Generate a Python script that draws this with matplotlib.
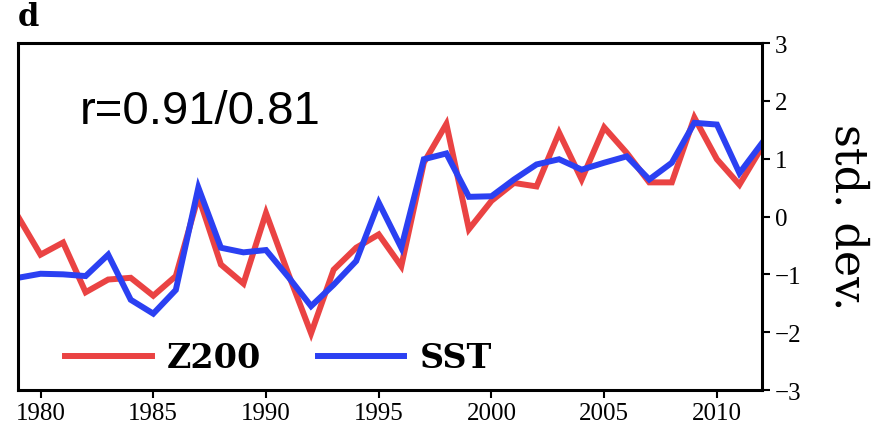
import numpy as np
import matplotlib
matplotlib.use("Agg")
import matplotlib.pyplot as plt

# years and standardized series
years = list(range(1979, 2013))
z200 = [0.0, -0.66, -0.45, -1.31, -1.09, -1.06, -1.37, -1.03, 0.35, -0.83,
        -1.16, 0.06, -1.0, -2.02, -0.92, -0.54, -0.31, -0.86, 0.93, 1.6,
        -0.22, 0.27, 0.58, 0.52, 1.45, 0.64, 1.54, 1.1, 0.59, 0.59,
        1.71, 0.99, 0.55, 1.2]
sst = [-1.06, -0.99, -1.0, -1.03, -0.66, -1.44, -1.68, -1.27, 0.5, -0.54,
       -0.62, -0.58, -1.05, -1.55, -1.18, -0.77, 0.24, -0.54, 0.99, 1.09,
       0.34, 0.35, 0.64, 0.9, 0.99, 0.81, 0.93, 1.04, 0.64, 0.93,
       1.62, 1.59, 0.75, 1.27]
xticks = [1980, 1985, 1990, 1995, 2000, 2005, 2010]
yticks = [-3, -2, -1, 0, 1, 2, 3]

red = "#ea4343"
blue = "#2b40f2"
serif = "DejaVu Serif"

fig = plt.figure(figsize=(8.81, 4.27), dpi=100)
ax = fig.add_axes([18 / 881, 1 - 391 / 427, 744 / 881, 347 / 427])

ax.plot(years, z200, color=red, lw=4.3, label="Z200", solid_joinstyle="miter")
ax.plot(years, sst, color=blue, lw=4.3, label="SST", solid_joinstyle="miter")

ax.set_xlim(1979, 2012)
ax.set_ylim(-3, 3)
ax.set_xticks(xticks)
ax.set_yticks(yticks)
ax.yaxis.tick_right()
ax.tick_params(axis="both", direction="out", length=6, width=1.5, pad=3)
ax.tick_params(axis="y", left=False, right=True)
ax.set_yticklabels([str(v).replace("-", "\u2212") for v in yticks])
for lab in ax.get_xticklabels() + ax.get_yticklabels():
    lab.set_family("Liberation Serif")
    lab.set_fontsize(18)
for sp in ax.spines.values():
    sp.set_linewidth(2.2)

# correlation text
ax.text((80 - 18) / 744, (391 - 112) / 347, "r=0.91/0.81",
        transform=ax.transAxes, fontsize=34, family="Liberation Sans",
        va="center", ha="left")

# right label
ax.text((848 - 18) / 744, 0.5, "std. dev.", transform=ax.transAxes,
        rotation=270, fontsize=32, family=serif, va="center", ha="center")

# panel letter
fig.text(18 / 881, 1 - 33 / 427, "d", fontsize=22, family=serif,
         fontweight="bold", va="bottom", ha="left")

leg = ax.legend(ncol=2, frameon=False, loc="center left",
                bbox_to_anchor=((65 - 18) / 744, (391 - 359) / 347),
                borderpad=0, borderaxespad=0, handlelength=2.6,
                handletextpad=0.45, columnspacing=1.7,
                prop={"family": serif, "weight": "bold", "size": 24})

fig.savefig("out.png", dpi=100)
